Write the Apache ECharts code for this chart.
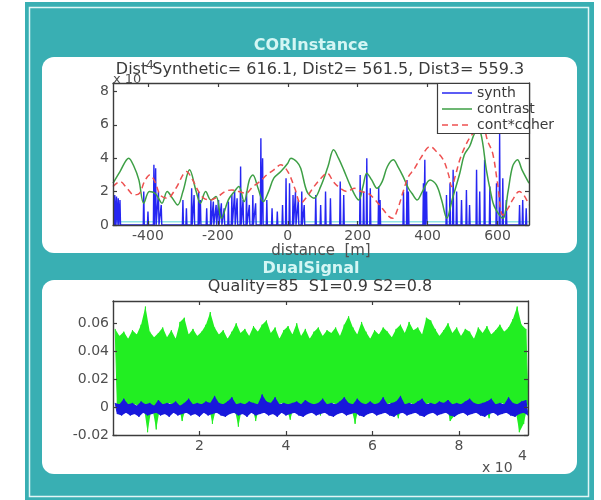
<!DOCTYPE html>
<html><head><meta charset="utf-8">
<script src="https://cdn.jsdelivr.net/npm/echarts@6/dist/echarts.min.js"></script>
<style>html,body{margin:0;padding:0;background:#fff}#c{width:601px;height:500px}</style>
</head><body><div id="c"></div><script>
// ---------- top panel data (distance in m, values in units of 1e-4) ----------
const topXTicks = [-400, -200, 0, 200, 400, 600];
const topYTicks = [0, 2, 4, 6, 8];
const legendNames = ['synth', 'contrast', 'cont*coher'];
const synthPos = [-495,-490,-485,-480,-412,-400,-383,-378,-370,-362,-300,-290,-275,-268,-255,-250,-232,-220,-213,-205,-198,-190,-182,-170,-160,-152,-145,-135,-128,-118,-110,-100,-92,-77,-72,-60,-45,-30,-15,-5,5,15,22,30,40,47,80,94,108,122,150,160,207,217,226,236,260,264,331,341,345,388,392,397,454,464,473,483,497,511,520,540,549,563,578,597,606,615,625,663,672,682];
const synthVal = [1.8,1.7,1.6,1.5,2.0,0.8,3.6,3.4,2.0,1.2,1.5,1.0,2.2,1.8,2.0,1.5,1.0,1.5,1.4,1.2,1.5,1.3,1.0,1.4,1.8,2.0,1.6,3.5,1.5,2.0,1.2,1.8,1.3,5.2,4.0,1.5,1.0,0.8,1.2,2.8,2.5,1.8,2.0,1.5,2.0,1.2,1.8,1.2,2.0,1.6,2.6,1.8,3.0,2.0,4.0,2.2,2.3,1.5,2.0,2.7,2.0,2.5,3.9,2.0,1.8,2.5,3.3,2.0,1.5,2.1,1.2,3.3,2.0,3.9,2.3,2.5,5.5,2.8,1.5,1.2,1.5,1.0];
const contrastPos = [-500,-480,-455,-440,-426,-412,-396,-380,-370,-360,-345,-330,-315,-300,-281,-262,-250,-235,-220,-205,-190,-170,-153,-140,-125,-110,-100,-85,-70,-55,-40,-20,0,9,25,37,55,75,94,115,131,145,160,180,203,215,226,240,255,270,285,302,315,330,345,355,370,385,407,425,440,455,470,492,505,520,540,552,568,580,591,615,630,643,657,670,690];
const contrastVal = [2.5,3.2,4.0,3.5,2.7,1.3,2.0,1.9,1.6,1.3,2.0,1.6,1.2,2.0,3.3,2.0,1.3,2.0,1.5,1.7,0.4,1.5,2.0,2.3,1.4,2.7,3.0,2.2,1.4,2.0,2.8,3.2,3.7,4.0,3.8,3.4,2.0,1.6,2.3,3.5,4.5,4.0,3.3,2.3,1.5,2.3,3.1,2.7,2.2,2.6,3.5,3.9,3.5,2.9,2.2,1.9,1.5,2.0,2.7,2.4,1.5,0.4,1.5,3.1,4.2,4.7,5.6,5.5,3.3,2.0,1.1,0.4,2.0,3.5,3.9,3.3,2.5];
const coherPos = [-500,-480,-460,-440,-424,-410,-395,-380,-365,-345,-320,-300,-290,-275,-255,-240,-220,-200,-180,-160,-140,-120,-100,-80,-60,-40,-20,0,20,37,55,75,95,113,130,150,170,190,210,230,250,270,290,300,315,330,345,360,380,407,425,445,460,469,480,492,505,520,540,558,572,586,600,615,630,643,662,675,690];
const coherVal = [2.3,2.6,2.2,1.8,1.9,2.6,3.0,2.6,1.8,1.6,2.2,3.0,3.2,2.8,2.0,1.6,1.5,1.7,2.0,2.1,2.0,1.9,2.3,2.6,3.0,3.3,3.6,3.2,2.2,1.3,1.7,2.3,2.8,3.1,2.6,2.2,2.0,2.2,2.0,1.9,1.5,1.0,0.5,0.4,1.0,2.0,2.9,3.3,4.0,4.7,4.4,3.9,3.0,2.3,3.0,3.9,4.6,5.2,5.7,5.8,5.0,4.3,2.5,0.6,1.0,1.5,2.0,1.8,1.2];
const floorPos = [-500, 690];
const floorVal = [0.2, 0.2];

// ---------- bottom panel data (sample index in units of 1e4) ----------
const botXTicks = [2, 4, 6, 8];
const botYTicks = [-0.02, 0, 0.02, 0.04, 0.06];
const sigStart = 0.05, sigStep = 0.1;
const greenHigh = [0.056,0.051,0.054,0.049,0.055,0.052,0.059,0.072,0.054,0.05,
0.053,0.057,0.05,0.055,0.049,0.061,0.064,0.052,0.056,0.051,
0.054,0.059,0.068,0.057,0.052,0.055,0.049,0.054,0.06,0.053,
0.056,0.051,0.058,0.054,0.059,0.062,0.053,0.057,0.049,0.055,
0.058,0.052,0.06,0.051,0.056,0.049,0.054,0.057,0.051,0.055,
0.053,0.057,0.051,0.059,0.065,0.057,0.052,0.061,0.054,0.049,
0.055,0.052,0.057,0.054,0.05,0.056,0.059,0.053,0.061,0.055,
0.057,0.052,0.064,0.062,0.056,0.051,0.055,0.06,0.053,0.057,
0.051,0.056,0.054,0.049,0.057,0.053,0.058,0.052,0.055,0.059,
0.054,0.057,0.063,0.072,0.059,0.056];
const greenLow = [0.002,0.001,0.003,0.0,0.002,0.001,0.003,-0.018,0.001,-0.016,
0.002,0.0,0.003,0.001,0.002,-0.01,0.001,0.003,0.0,0.002,
0.001,0.003,-0.012,0.001,0.002,0.0,0.003,0.001,-0.014,0.002,
0.0,0.002,-0.01,0.001,0.003,0.0,0.002,0.001,0.003,0.0,
-0.009,0.002,0.001,0.003,0.0,0.002,0.001,-0.006,0.002,0.0,
0.003,0.001,0.002,0.0,0.001,-0.012,0.002,-0.007,0.001,0.003,
0.0,0.002,0.001,0.003,0.0,-0.008,0.002,0.001,0.003,0.0,
0.002,0.001,0.003,0.0,0.002,0.001,0.003,-0.01,-0.006,0.0,
0.002,0.001,0.003,0.0,0.002,0.001,-0.008,0.002,0.0,0.003,
0.001,0.002,0.0,-0.018,-0.012,0.002];
const blueHigh = [0.003,0.002,0.006,0.002,0.003,0.001,0.004,0.002,0.003,0.001,
0.005,0.002,0.003,0.002,0.004,0.001,0.003,0.006,0.002,0.003,
0.002,0.004,0.003,0.008,0.003,0.002,0.004,0.007,0.002,0.003,
0.002,0.004,0.003,0.002,0.009,0.004,0.003,0.007,0.002,0.003,
0.002,0.003,0.004,0.002,0.005,0.003,0.002,0.003,0.006,0.002,
0.003,0.002,0.004,0.007,0.003,0.002,0.006,0.003,0.002,0.004,
0.002,0.003,0.007,0.002,0.003,0.004,0.008,0.002,0.003,0.002,
0.004,0.006,0.002,0.003,0.002,0.004,0.003,0.005,0.002,0.003,
0.002,0.004,0.006,0.003,0.002,0.003,0.004,0.006,0.002,0.003,
0.002,0.007,0.003,0.002,0.004,0.005];
const blueLow = [-0.005,-0.006,-0.004,-0.006,-0.005,-0.007,-0.004,-0.006,-0.005,-0.004,
-0.006,-0.005,-0.007,-0.004,-0.006,-0.005,-0.004,-0.006,-0.005,-0.007,
-0.004,-0.006,-0.005,-0.004,-0.006,-0.007,-0.005,-0.004,-0.006,-0.005,
-0.007,-0.004,-0.006,-0.005,-0.004,-0.006,-0.005,-0.007,-0.004,-0.006,
-0.005,-0.004,-0.006,-0.007,-0.005,-0.004,-0.006,-0.005,-0.004,-0.006,
-0.007,-0.005,-0.004,-0.006,-0.005,-0.004,-0.006,-0.007,-0.005,-0.004,
-0.006,-0.005,-0.004,-0.006,-0.007,-0.005,-0.004,-0.006,-0.005,-0.004,
-0.006,-0.007,-0.005,-0.004,-0.006,-0.005,-0.004,-0.006,-0.007,-0.005,
-0.004,-0.006,-0.005,-0.004,-0.006,-0.007,-0.005,-0.004,-0.006,-0.005,
-0.004,-0.006,-0.007,-0.005,-0.004,-0.006];

// ---------- build series data from the arrays ----------
const pairs = (xs, ys) => xs.map((x, i) => [x, ys[i]]);
const stems = [];
synthPos.forEach((p, i) => { stems.push([p - 1.5, 0], [p, synthVal[i]], [p + 1.5, 0]); });
const sigX = greenHigh.map((_, i) => sigStart + i * sigStep);
function zigzag(hi, lo) {
  const out = [];
  for (let i = 0; i < hi.length; i++) out.push([sigX[i], hi[i]], [sigX[i] + sigStep / 2, lo[i]]);
  return out;
}
// filled envelope between lo and hi, positioned with the axis scales (api.coord)
function bandSeries(hi, lo, color, z) {
  return {
    type: 'custom', xAxisIndex: 2, yAxisIndex: 2, z, clip: true, silent: true,
    data: [[sigX[0], hi[0]]],
    renderItem: (params, api) => {
      const pts = [];
      for (let i = 0; i < hi.length; i++) pts.push(api.coord([sigX[i], hi[i]]));
      for (let i = lo.length - 1; i >= 0; i--) pts.push(api.coord([sigX[i] + sigStep / 2, lo[i]]));
      return { type: 'polygon', shape: { points: pts }, style: { fill: color, stroke: null } };
    }
  };
}

const FF = 'DejaVu Sans';
const AX = '#3c3c3c', LAB = '#4f4f4f';
const GREEN = '#22ee22', BLUE = '#1818dc';
const C_SYN = '#2626f2', C_CON = '#3d9f45', C_COH = '#ee5050';
function xAx(grid, min, max, ticks, pos, labels, extra) {
  return Object.assign({
    type: 'value', gridIndex: grid, min, max, position: pos, z: 10,
    axisLine: { show: true, onZero: false, lineStyle: { color: AX, width: 1.4 } },
    axisTick: { show: true, inside: true, length: 4, customValues: ticks, lineStyle: { color: AX, width: 1.2 } },
    axisLabel: { show: labels, customValues: ticks, color: LAB, fontSize: 14, fontFamily: FF, margin: 4 },
    splitLine: { show: false }
  }, extra || {});
}
function yAx(grid, min, max, ticks, pos, labels, fmt) {
  return {
    type: 'value', gridIndex: grid, min, max, position: pos, z: 10,
    axisLine: { show: true, onZero: false, lineStyle: { color: AX, width: 1.4 } },
    axisTick: { show: true, inside: true, length: 4, customValues: ticks, lineStyle: { color: AX, width: 1.2 } },
    axisLabel: { show: labels, customValues: ticks, color: LAB, fontSize: 14, fontFamily: FF, margin: 4, formatter: fmt },
    splitLine: { show: false }
  };
}
const txt = (text, x, y, size, fill, z) => ({ type: 'text', z: z || 20, style: {
  text, x, y, font: size + 'px "DejaVu Sans"', fill, textAlign: 'left', textVerticalAlign: 'middle', align: 'left', verticalAlign: 'middle' } });
const legLine = (y, color, dash) => ({ type: 'line', z: 21, shape: { x1: 442, y1: y, x2: 472, y2: y },
  style: { stroke: color, lineWidth: 1.5, lineDash: dash || null } });

const chart = echarts.init(document.getElementById('c'), null, { renderer: 'canvas' });
chart.setOption({
  animation: false,
  backgroundColor: '#ffffff',
  title: [
    { text: 'CORInstance', left: 311, top: 38, textAlign: 'center', padding: 0,
      textStyle: { color: '#d4f6f4', fontSize: 16, fontWeight: 'bold', fontFamily: FF } },
    { text: 'DualSignal', left: 311, top: 261, textAlign: 'center', padding: 0,
      textStyle: { color: '#d4f6f4', fontSize: 16, fontWeight: 'bold', fontFamily: FF } },
    { text: 'Dist Synthetic= 616.1, Dist2= 561.5, Dist3= 559.3', left: 320, top: 62, textAlign: 'center', padding: 0,
      textStyle: { color: '#3a3a3a', fontSize: 16, fontWeight: 'normal', fontFamily: FF } },
    { text: 'Quality=85  S1=0.9 S2=0.8', left: 320, top: 279, textAlign: 'center', padding: 0,
      textStyle: { color: '#3a3a3a', fontSize: 16, fontWeight: 'normal', fontFamily: FF } }
  ],
  graphic: [
    { type: 'rect', z: -10, shape: { x: 25, y: 2, width: 569, height: 498 }, style: { fill: '#39afb3' } },
    { type: 'rect', z: -9, shape: { x: 29.5, y: 7.5, width: 559, height: 489 }, style: { fill: null, stroke: '#e2f6f6', lineWidth: 1.5 } },
    { type: 'rect', z: -8, shape: { x: 42, y: 57, width: 535, height: 196, r: 12 }, style: { fill: '#ffffff' } },
    { type: 'rect', z: -8, shape: { x: 42, y: 280, width: 535, height: 194, r: 12 }, style: { fill: '#ffffff' } },
    { type: 'rect', z: 15, shape: { x: 437.5, y: 83.5, width: 92, height: 50 }, style: { fill: '#ffffff', stroke: AX, lineWidth: 1.2 } },
    legLine(93, C_SYN), legLine(109, C_CON), legLine(125, C_COH, [6, 4]),
    txt(legendNames[0], 477, 93, 14, '#3a3a3a', 22),
    txt(legendNames[1], 477, 109, 14, '#3a3a3a', 22),
    txt(legendNames[2], 477, 125, 14, '#3a3a3a', 22),
    txt('x 10', 113, 80, 13, LAB),
    txt('-4', 141, 66, 13, LAB),
    txt('x 10', 482, 468, 14, LAB),
    txt('4', 518, 456, 14, LAB)
  ],
  grid: [
    { left: 113, top: 83, width: 416, height: 142 },
    { left: 113, top: 301, width: 415, height: 134 }
  ],
  xAxis: [
    xAx(0, -500, 690, topXTicks, 'bottom', true, { name: 'distance  [m]', nameLocation: 'middle', nameGap: 19,
      nameTextStyle: { color: LAB, fontSize: 15, fontFamily: FF } }),
    xAx(0, -500, 690, topXTicks, 'top', false),
    xAx(1, 0, 9.6, botXTicks, 'bottom', true),
    xAx(1, 0, 9.6, botXTicks, 'top', false)
  ],
  yAxis: [
    yAx(0, 0, 8.5, topYTicks, 'left', true, v => String(v)),
    yAx(0, 0, 8.5, topYTicks, 'right', false),
    yAx(1, -0.02, 0.076, botYTicks, 'left', true, v => (Math.abs(v) < 1e-9 ? '0' : v.toFixed(2))),
    yAx(1, -0.02, 0.076, botYTicks, 'right', false)
  ],
  series: [
    { name: 'floor', type: 'line', xAxisIndex: 0, yAxisIndex: 0, data: pairs(floorPos, floorVal), symbol: 'none',
      lineStyle: { color: '#8fe3e6', width: 1.5 }, z: 2 },
    { name: 'synth', type: 'line', xAxisIndex: 0, yAxisIndex: 0, data: stems, symbol: 'none',
      lineStyle: { color: C_SYN, width: 1.4 }, itemStyle: { color: C_SYN }, z: 2 },
    { name: 'contrast', type: 'line', xAxisIndex: 0, yAxisIndex: 0, data: pairs(contrastPos, contrastVal), symbol: 'none', smooth: 0.35,
      lineStyle: { color: C_CON, width: 1.5 }, itemStyle: { color: C_CON }, z: 3 },
    { name: 'cont*coher', type: 'line', xAxisIndex: 0, yAxisIndex: 0, data: pairs(coherPos, coherVal), symbol: 'none', smooth: 0.35,
      lineStyle: { color: C_COH, width: 1.5, type: [6, 4] }, itemStyle: { color: C_COH }, z: 4 },

    Object.assign(bandSeries(greenHigh, greenLow, GREEN, 2), { name: 'signal1 band' }),
    { name: 'signal1', type: 'line', xAxisIndex: 2, yAxisIndex: 2, data: zigzag(greenHigh, greenLow), symbol: 'none',
      lineStyle: { color: GREEN, width: 1 }, z: 2 },
    Object.assign(bandSeries(blueHigh, blueLow, BLUE, 3), { name: 'signal2 band' }),
    { name: 'signal2', type: 'line', xAxisIndex: 2, yAxisIndex: 2, data: zigzag(blueHigh, blueLow), symbol: 'none',
      lineStyle: { color: BLUE, width: 1 }, z: 3 }
  ]
});
</script></body></html>
